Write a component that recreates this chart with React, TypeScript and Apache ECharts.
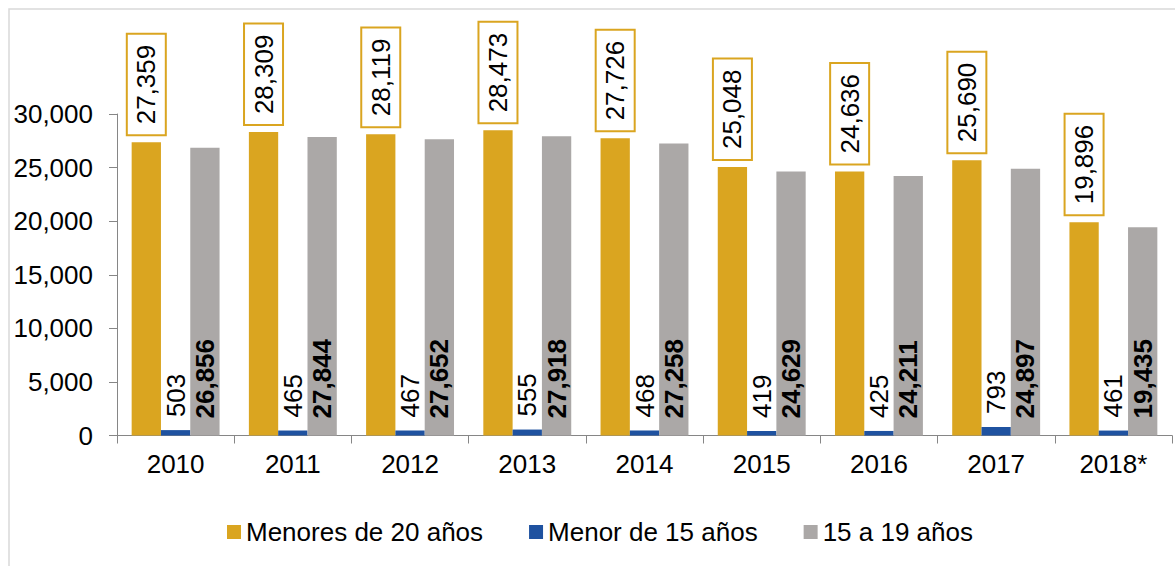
import React, { useEffect, useRef } from "react";
import * as echarts from "echarts";

const categories = ["2010", "2011", "2012", "2013", "2014", "2015", "2016", "2017", "2018*"];
const menores20 = [27359, 28309, 28119, 28473, 27726, 25048, 24636, 25690, 19896];
const menor15 = [503, 465, 467, 555, 468, 419, 425, 793, 461];
const de15a19 = [26856, 27844, 27652, 27918, 27258, 24629, 24211, 24897, 19435];
const seriesNames = ["Menores de 20 años", "Menor de 15 años", "15 a 19 años"];
const yTicks = { min: 0, max: 30000, interval: 5000 };

const FONT = "'Liberation Sans', Arial, sans-serif";
const fmt = (v: number) => v.toLocaleString("en-US");

export default function App() {
  const ref = useRef<HTMLDivElement>(null);
  useEffect(() => {
    if (!ref.current) return;
    const chart = echarts.init(ref.current, null, { renderer: "svg" });
    chart.setOption({
      animation: false,
      backgroundColor: "#ffffff",
      textStyle: { fontFamily: FONT },
      graphic: [
        {
          type: "rect",
          shape: { x: 9, y: 9, width: 1300, height: 700 },
          style: { fill: "none", stroke: "#d9d9d9", lineWidth: 1.5 },
          silent: true,
          z: -1,
        },
      ],
      grid: { left: 117, right: 3, top: 114, bottom: 130.5, containLabel: false },
      legend: {
        left: 222,
        top: 513,
        itemWidth: 14,
        itemHeight: 14,
        itemGap: 46,
        icon: "rect",
        textStyle: { fontSize: 26, color: "#000", fontFamily: FONT, lineHeight: 28 },
        data: seriesNames,
      },
      xAxis: {
        type: "category",
        data: categories,
        axisLine: { lineStyle: { color: "#868686", width: 1 } },
        axisTick: { show: true, length: 8, lineStyle: { color: "#868686" } },
        axisLabel: { fontSize: 26, color: "#000", margin: 15, fontFamily: FONT },
      },
      yAxis: {
        type: "value",
        min: yTicks.min,
        max: yTicks.max,
        interval: yTicks.interval,
        axisLine: { show: true, lineStyle: { color: "#868686", width: 1 } },
        axisTick: { show: true, length: 8, lineStyle: { color: "#868686" } },
        splitLine: { show: false },
        axisLabel: { fontSize: 26, color: "#000", margin: 24, fontFamily: FONT, formatter: (v: number) => fmt(v) },
      },
      series: [
        {
          name: seriesNames[0],
          type: "bar",
          data: menores20,
          barGap: "0%",
          barCategoryGap: "25%",
          itemStyle: { color: "#DAA520" },
          label: {
            show: true,
            position: "top",
            distance: 8,
            rotate: 90,
            align: "left",
            verticalAlign: "middle",
            fontSize: 26,
            color: "#000",
            fontFamily: FONT,
            backgroundColor: "#fff",
            borderColor: "#DAA520",
            borderWidth: 2,
            padding: [6, 10, 5, 10],
            formatter: (p: any) => fmt(p.value),
          },
        },
        {
          name: seriesNames[1],
          type: "bar",
          data: menor15,
          barGap: "0%",
          barCategoryGap: "25%",
          itemStyle: { color: "#1F52A0" },
          label: {
            show: true,
            position: "top",
            distance: 13,
            rotate: 90,
            align: "left",
            verticalAlign: "middle",
            fontSize: 26,
            color: "#000",
            fontFamily: FONT,
            formatter: (p: any) => fmt(p.value),
          },
        },
        {
          name: seriesNames[2],
          type: "bar",
          data: de15a19,
          barGap: "0%",
          barCategoryGap: "25%",
          itemStyle: { color: "#ABA8A7" },
          label: {
            show: true,
            position: "insideBottom",
            distance: 17,
            rotate: 90,
            align: "left",
            verticalAlign: "middle",
            fontSize: 26,
            fontWeight: "bold",
            color: "#000",
            fontFamily: FONT,
            formatter: (p: any) => fmt(p.value),
          },
        },
      ],
    });
    return () => chart.dispose();
  }, []);
  return (
    <div
      ref={ref}
      style={{ position: "fixed", left: 0, top: 0, width: 1175, height: 566 }}
    />
  );
}
